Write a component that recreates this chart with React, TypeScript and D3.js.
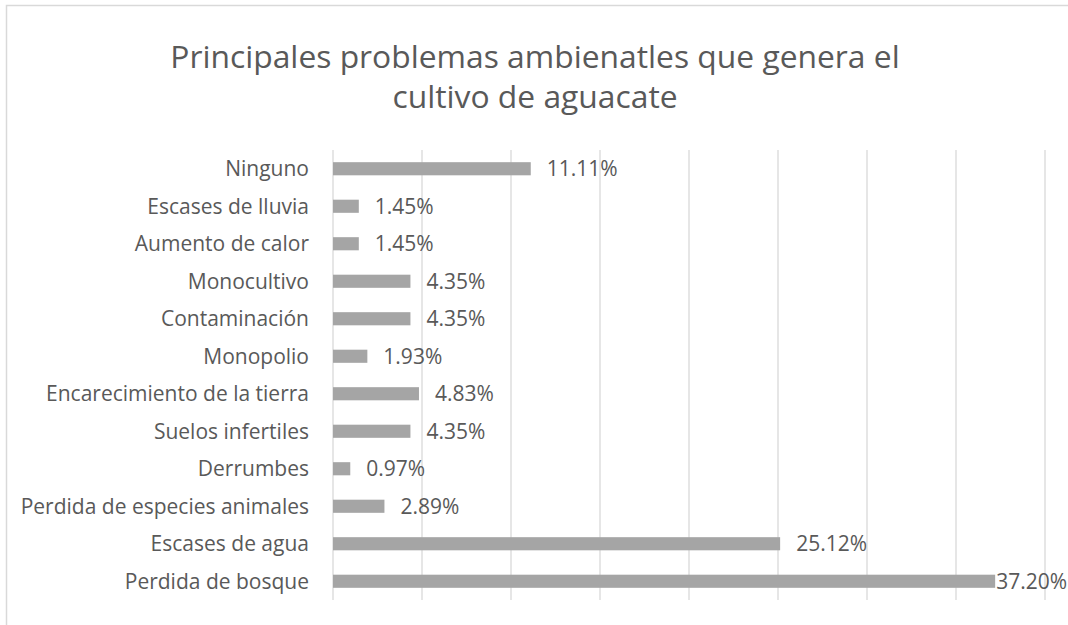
import React from "react";
import * as d3 from "d3";

const categories = [
  "Ninguno",
  "Escases de lluvia",
  "Aumento de calor",
  "Monocultivo",
  "Contaminación",
  "Monopolio",
  "Encarecimiento de la tierra",
  "Suelos infertiles",
  "Derrumbes",
  "Perdida de especies animales",
  "Escases de agua",
  "Perdida de bosque",
];
const values = [11.11, 1.45, 1.45, 4.35, 4.35, 1.93, 4.83, 4.35, 0.97, 2.89, 25.12, 37.2];
const valueLabels = ["11.11%", "1.45%", "1.45%", "4.35%", "4.35%", "1.93%", "4.83%", "4.35%", "0.97%", "2.89%", "25.12%", "37.20%"];
const xTicks = [0, 5, 10, 15, 20, 25, 30, 35, 40];
const titleLines = ["Principales problemas ambienatles que genera el", "cultivo de aguacate"];

const W = 1068;
const H = 625;
const FONT = "'Open Sans', 'Liberation Sans', sans-serif";
const TEXT = "#595959";

export default function App() {
  const x = d3.scaleLinear().domain([0, 40]).range([333, 1045]);
  const y = d3.scaleBand().domain(categories).range([150, 600]).paddingInner(0.65).paddingOuter(0.325);
  const labelRight = 1066;
  const labelW = (s: string) => s.length * 12;

  return (
    <svg width={W} height={H} style={{ position: "absolute", left: 0, top: 0, background: "#fff" }}>
      <rect x={6.5} y={5.5} width={W} height={H} fill="#fff" stroke="#d9d9d9" strokeWidth={1.5} />
      {titleLines.map((t, i) => (
        <text key={i} x={535} y={68 + i * 40} textAnchor="middle" fontFamily={FONT} fontSize={31.8} fill={TEXT}>
          {t}
        </text>
      ))}
      {xTicks.map((t) => (
        <line key={t} x1={x(t)} x2={x(t)} y1={150} y2={600} stroke="#d9d9d9" strokeWidth={1.3} />
      ))}
      {categories.map((c, i) => {
        const yy = y(c)!;
        const end = x(values[i]);
        const bw = y.bandwidth();
        let lx = end + 16;
        if (lx + labelW(valueLabels[i]) > labelRight) lx = end + 1;
        return (
          <g key={c}>
            <rect x={x(0)} y={yy} width={end - x(0)} height={bw} fill="#a5a5a5" />
            <text x={309} y={yy + bw / 2} dy="0.35em" textAnchor="end" fontFamily={FONT} fontSize={21} fill={TEXT}>
              {c}
            </text>
            <text x={lx} y={yy + bw / 2} dy="0.35em" fontFamily={FONT} fontSize={21} fill={TEXT}>
              {valueLabels[i]}
            </text>
          </g>
        );
      })}
    </svg>
  );
}
